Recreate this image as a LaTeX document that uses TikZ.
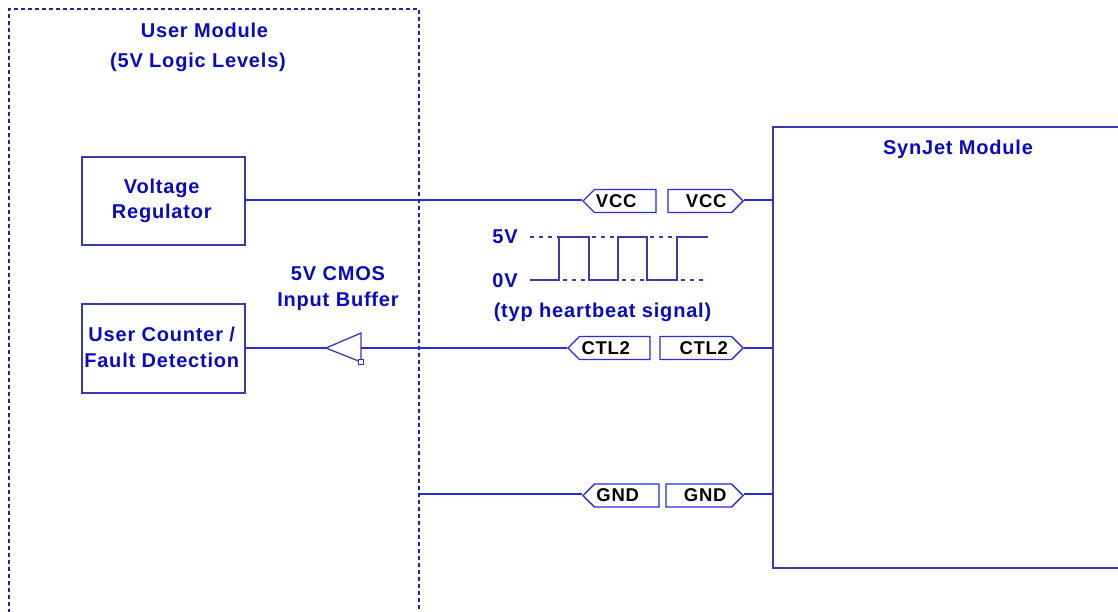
\documentclass[tikz,border=0pt]{standalone}
\usepackage{fontspec}
\setmainfont{Liberation Sans}[LetterSpace=4]
\usetikzlibrary{shapes.symbols}
\definecolor{wire}{HTML}{2A2ADF}
\definecolor{dash}{HTML}{2222A8}
\definecolor{wave}{HTML}{3A3AA8}
\definecolor{label}{HTML}{0A0AC0}
\newcommand{\shl}[2]{\mbox{\raisebox{#1}{#2}\hspace{3pt}}}
\newcommand{\tagl}[1]{\mbox{#1\hspace{18pt}}}
\newcommand{\tagr}[2]{\mbox{\hspace{#1}#2}}
\tikzset{
  wireline/.style={draw=wire,line width=1.4pt},
  frameline/.style={draw=wave,line width=1.5pt},
  blockbox/.style={draw=wave,line width=1.5pt,anchor=north west,inner sep=0pt,align=center,text=label,font=\bfseries\fontsize{20}{25.5}\selectfont},
  lbl/.style={text=label,font=\bfseries\fontsize{20}{26}\selectfont,align=center,inner sep=0pt},
  tag/.style={signal,draw=wire,line width=1.4pt,inner sep=0pt,minimum height=23pt,signal pointer angle=90,text=black,font=\bfseries\fontsize{18.5}{21}\selectfont},
  tagin/.style={tag,signal to=west,signal from=nowhere,anchor=west},
  tagout/.style={tag,signal to=east,signal from=nowhere,anchor=east},
  waveline/.style={draw=wave,line width=1.4pt},
  wavedash/.style={draw=wave,line width=1.3pt,dash pattern=on 4pt off 5pt}
}
\begin{document}
\begin{tikzpicture}[x=1pt,y=-1pt]
\useasboundingbox (0,0) rectangle (1118,611);
% frames
\draw[draw=dash,line width=1.3pt,dash pattern=on 4pt off 3pt] (9,620) -- (9,9) -- (419,9) -- (419,620);
\draw[frameline] (1125,127) -- (773,127) -- (773,568) -- (1125,568);
\coordinate (umedge) at (419,494);
% labels
\node[lbl] (um) at (204.5,30) {User Module};
\node[lbl] (uml) at (198,62) {(5V Logic Levels)};
\node[lbl] (sj) at (958,149) {SynJet Module};
\node[lbl] (buf) at (338,289) {5V CMOS\\Input Buffer};
% blocks
\node[blockbox,minimum width=163pt,minimum height=88pt] (vr) at (81,156) {\shl{0pt}{Voltage}\\\shl{0pt}{Regulator}};
\node[blockbox,minimum width=163pt,minimum height=89pt] (uc) at (81,303) {\shl{2pt}{User Counter /}\\\shl{2pt}{Fault Detection}};
% tags
\node[tagin,minimum width=73pt] (vccl) at (582,201) {\tagl{VCC}};
\node[tagout,minimum width=75pt] (vccr) at (744,201) {\tagr{13pt}{VCC}};
\node[tagin,minimum width=82pt] (ctll) at (567,348) {\tagl{CTL2}};
\node[tagout,minimum width=83pt] (ctlr) at (744,348) {\tagr{16pt}{CTL2}};
\node[tagin,minimum width=76pt] (gndl) at (582,495.5) {\tagl{GND}};
\node[tagout,minimum width=77pt] (gndr) at (744,495.5) {\tagr{13pt}{GND}};
% module pins
\coordinate (pinv) at (773,200);
\coordinate (pinc) at (773,348);
\coordinate (ping) at (773,494);
% connectors
\coordinate (vrw) at (vr.east |- pinv);
\draw[wireline] (vrw) -- (vccl.west |- pinv);
\draw[wireline] (vccr.east |- pinv) -- (pinv);
\draw[wireline] (ctlr.east) -- (pinc);
\draw[wireline] (umedge) -- (gndl.west |- ping);
\draw[wireline] (gndr.east |- ping) -- (ping);
% buffer
\coordinate (btip) at (326,348);
\coordinate (bbase) at (361,348);
\draw[draw=wave,line width=1.3pt] (btip) -- (361,333) -- (361,362) -- cycle;
\node[draw=wire,line width=1.1pt,fill=white,minimum size=5pt,inner sep=0pt] (bsq) at (361,362) {};
\draw[wireline] (uc.east |- btip) -- (btip);
\draw[wireline] (bbase) -- (ctll.west);
% waveform
\node[lbl] (v5) at (505,236.5) {5V};
\node[lbl] (v0) at (505,280.5) {0V};
\node[lbl] (hb) at (602.5,312.5) {(typ heartbeat signal)};
\draw[wavedash] (530,237) -- (559,237);
\draw[wavedash] (592,237) -- (618,237);
\draw[wavedash] (650,237) -- (677,237);
\draw[wavedash] (563,280) -- (589,280);
\draw[wavedash] (622,280) -- (647,280);
\draw[wavedash] (681,280) -- (708,280);
\draw[waveline] (530,280) -- (559,280) -- (559,237) -- (589,237) -- (589,280) -- (618,280) -- (618,237) -- (647,237) -- (647,280) -- (677,280) -- (677,237) -- (708,237);
\end{tikzpicture}
\end{document}
